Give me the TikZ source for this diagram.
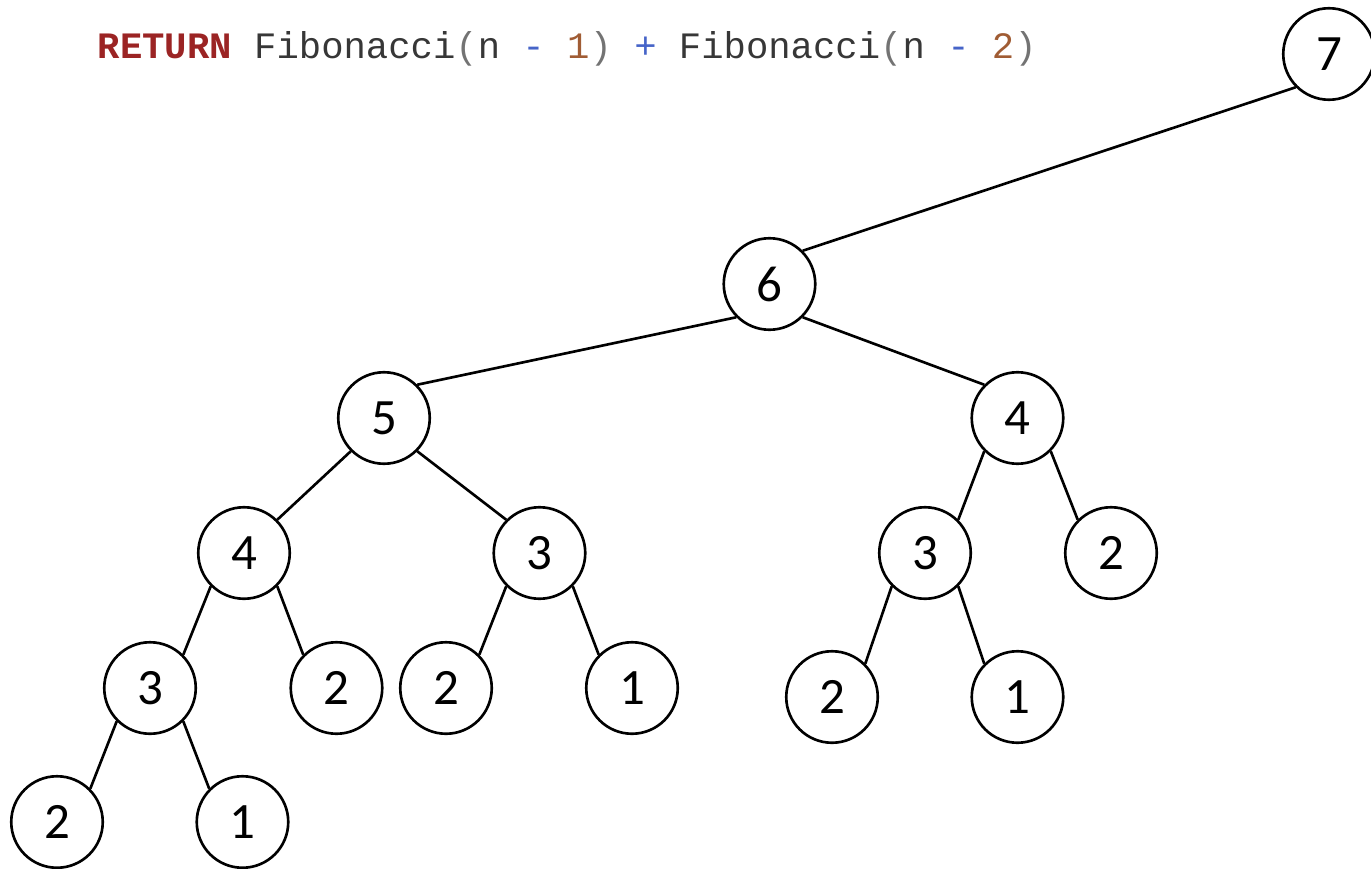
\documentclass[tikz,border=0pt]{standalone}
\usepackage{fontspec}
\setsansfont{Carlito}
\setmonofont{Liberation Mono}
\usepackage{tikz}
\definecolor{kwred}{RGB}{155,36,36}
\definecolor{opblue}{RGB}{70,100,200}
\definecolor{numbrown}{RGB}{160,92,52}
\definecolor{codegray}{RGB}{55,55,55}
\definecolor{pargray}{RGB}{115,115,115}
\tikzset{
  fibnode/.style={shape=circle,draw=black,line width=0.75pt,minimum size=0.915cm,inner sep=0pt,font=\sffamily\fontsize{14.5}{16}\selectfont},
  calltree/.style={line width=0.75pt}
}

\begin{document}
\begin{tikzpicture}
    \useasboundingbox (0,0) rectangle (13.71,8.68);
    \node[anchor=base west,inner sep=0pt,text=codegray,font=\ttfamily\fontsize{10.6}{12}\selectfont] (code) at (0.97,8.09)
      {\textcolor{kwred}{\textbf{RETURN}} Fibonacci\textcolor{pargray}{(}n \textcolor{opblue}{-} \textcolor{numbrown}{1}\textcolor{pargray}{)} \textcolor{opblue}{+} Fibonacci\textcolor{pargray}{(}n \textcolor{opblue}{-} \textcolor{numbrown}{2}\textcolor{pargray}{)}};
    \node[fibnode] (f7) at (13.29,8.14) {7};
    \node[fibnode] (f6) at (7.695,5.84) {6};
     \node[fibnode] (f5) at (3.84,4.50) {5};
     \node[fibnode] (f4r) at (10.175,4.50) {4};
      \node[fibnode] (f4l) at (2.44,3.15) {4};
      \node[fibnode] (f3m) at (5.395,3.15) {3};
      \node[fibnode] (f3r) at (9.25,3.15) {3};
      \node[fibnode] (f2r) at (11.11,3.15) {2};
       \node[fibnode] (f3l) at (1.50,1.80) {3};
       \node[fibnode] (f2a) at (3.365,1.80) {2};
       \node[fibnode] (f2b) at (4.46,1.80) {2};
       \node[fibnode] (f1a) at (6.32,1.80) {1};
       \node[fibnode] (f2c) at (8.32,1.71) {2};
       \node[fibnode] (f1b) at (10.175,1.71) {1};
        \node[fibnode] (f2d) at (0.57,0.46) {2};
        \node[fibnode] (f1c) at (2.425,0.46) {1};
    \path [calltree] (f7.south west) edge (f6.north east);
    \path [calltree] (f6.south west) edge (f5.north east);
    \path [calltree] (f6.south east) edge (f4r.north west);
    \path [calltree] (f5.south west) edge (f4l.north east);
    \path [calltree] (f5.south east) edge (f3m.north west);
    \path [calltree] (f4r.south west) edge (f3r.north east);
    \path [calltree] (f4r.south east) edge (f2r.north west);
    \path [calltree] (f4l.south west) edge (f3l.north east);
    \path [calltree] (f4l.south east) edge (f2a.north west);
    \path [calltree] (f3m.south west) edge (f2b.north east);
    \path [calltree] (f3m.south east) edge (f1a.north west);
    \path [calltree] (f3r.south west) edge (f2c.north east);
    \path [calltree] (f3r.south east) edge (f1b.north west);
    \path [calltree] (f3l.south west) edge (f2d.north east);
    \path [calltree] (f3l.south east) edge (f1c.north west);
\end{tikzpicture}
\end{document}
